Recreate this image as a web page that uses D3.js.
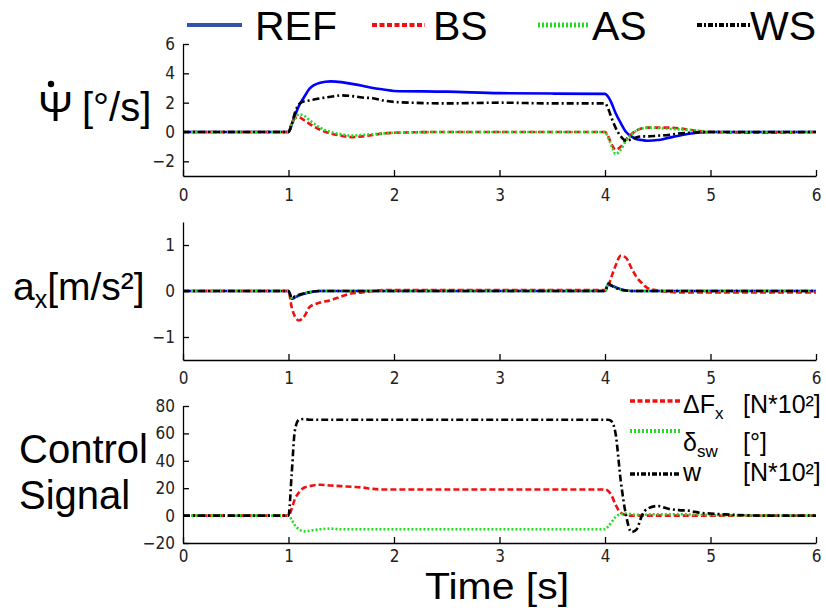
<!DOCTYPE html>
<html><head><meta charset="utf-8">
<script src="https://cdn.jsdelivr.net/npm/d3@7"></script>
<style>
html,body{margin:0;padding:0;background:#fff;}
svg{display:block;}
.tick text{font-family:"DejaVu Sans Condensed","Liberation Sans Narrow","Liberation Sans",Arial,sans-serif;font-stretch:condensed;font-size:17px;fill:#222;}
.lab{font-family:"Liberation Sans",Arial,Helvetica,sans-serif;fill:#000;}
</style></head>
<body>
<script>
// ---- shared time grid (s) ----
const time = [0, 1.0, 1.03, 1.06, 1.1, 1.15, 1.2, 1.3, 1.4, 1.5, 1.6, 1.7, 1.8, 1.9, 2.0, 2.5, 3.0, 3.5, 4.0, 4.03, 4.06, 4.1, 4.15, 4.2, 4.25, 4.3, 4.35, 4.4, 4.5, 4.6, 4.7, 4.8, 4.9, 5.0, 5.5, 6.0];

// ---- panel 1: yaw rate [deg/s] ----
const yawREF = [0, 0, 0.5, 1.1, 1.8, 2.4, 2.95, 3.35, 3.45, 3.4, 3.28, 3.15, 3.0, 2.9, 2.8, 2.75, 2.65, 2.62, 2.6, 2.4, 2.0, 1.3, 0.6, 0.0, -0.3, -0.5, -0.55, -0.6, -0.55, -0.4, -0.25, -0.12, -0.03, 0, 0, 0];
const yawBS  = [0, 0, 0.6, 0.95, 1.0, 0.8, 0.55, 0.15, -0.1, -0.25, -0.35, -0.3, -0.2, -0.1, -0.05, 0, 0, 0, 0, -0.3, -0.8, -1.2, -1.0, -0.5, -0.15, 0.1, 0.25, 0.3, 0.3, 0.3, 0.25, 0.15, 0.05, 0, -0.05, 0];
const yawAS  = [0, 0, 0.5, 0.9, 1.2, 1.1, 0.8, 0.3, 0.0, -0.15, -0.25, -0.2, -0.15, -0.1, -0.05, 0, 0, 0, 0, -0.4, -0.9, -1.5, -1.2, -0.6, -0.2, 0.1, 0.25, 0.3, 0.28, 0.22, 0.18, 0.15, 0.08, 0, 0, 0];
const yawWS  = [0, 0, 0.5, 1.3, 1.9, 2.1, 2.15, 2.3, 2.4, 2.5, 2.45, 2.35, 2.3, 2.15, 2.05, 1.95, 2.0, 1.95, 1.95, 1.6, 1.0, 0.3, -0.3, -0.6, -0.5, -0.35, -0.3, -0.3, -0.25, -0.2, -0.1, -0.05, 0, 0, 0, 0];

// ---- panel 2: longitudinal acceleration [m/s^2] ----
const axREF = [0, 0, -0.17, -0.14, -0.1, -0.06, -0.03, 0, 0, 0, 0, 0, 0, 0, 0, 0, 0, 0, 0, 0.14, 0.12, 0.08, 0.04, 0.01, 0, 0, 0, 0, 0, 0, 0, 0, 0, 0, 0, 0];
const axBS  = [0, 0, -0.35, -0.55, -0.64, -0.55, -0.35, -0.25, -0.2, -0.12, -0.05, -0.03, 0, 0.02, 0.02, 0.02, 0.02, 0.02, 0.02, 0.1, 0.3, 0.55, 0.77, 0.72, 0.5, 0.3, 0.17, 0.07, 0.01, -0.02, -0.03, -0.03, -0.03, -0.03, -0.03, -0.03];
const axAS  = [0, 0, -0.15, -0.13, -0.09, -0.05, -0.02, 0, 0, 0, 0, 0, 0, 0, 0, 0, 0, 0, 0, 0.15, 0.12, 0.07, 0.03, 0.01, 0, 0, 0, 0, 0, 0, 0, 0, 0, 0, 0, 0];
const axWS  = [0, 0, -0.15, -0.12, -0.08, -0.05, -0.02, 0, 0, 0, 0, 0, 0, 0, 0, 0, 0, 0, 0, 0.16, 0.12, 0.07, 0.03, 0.01, 0, 0, 0, 0, 0, 0, 0, 0, 0, 0, 0, 0];

// ---- panel 3: control signals ----
const ctrlDFx = [0, 0, 5, 12, 17, 20.5, 21.5, 22.5, 22, 21.5, 21, 20.5, 19.5, 19, 19, 19, 19, 19, 19, 18, 15, 8, 2, 0.5, 0, 0, 0, 0, 0, 0, 0, 0, 0, 0, 0, 0];
const ctrlDsw = [0, 0, -3, -7, -10, -11.5, -11, -10, -9.5, -10, -10, -10, -10, -10, -10, -10, -10, -10, -10, -8, -5, -1, 1, 1.5, 1, 0.5, 0.5, 0.8, 1, 1, 1, 0.8, 0.6, 0.5, 0, 0];
const ctrlW   = [0, 0, 30, 62, 70, 70.5, 70, 70, 70, 70, 70, 70, 70, 70, 70, 70, 70, 70, 70, 70, 69, 60, 25, 0, -12, -10, 0, 5, 7, 5, 4, 3.5, 2, 1.5, 0, 0];

// ---- ticks / labels ----
const xTicks = [0, 1, 2, 3, 4, 5, 6];
const yawTicks = [-2, 0, 2, 4, 6];
const axTicks = [-1, 0, 1];
const ctrlTicks = [-20, 0, 20, 40, 60, 80];
const legendTop = ["REF", "BS", "AS", "WS"];

const W = 826, H = 608;
const svg = d3.select("body").append("svg").attr("width", W).attr("height", H);
svg.append("rect").attr("width", W).attr("height", H).attr("fill", "#fff");

const x = d3.scaleLinear().domain([0, 6]).range([183, 816]);

const styles = {
  REF: {color: "#0000ff", dash: null, w: 2.6},
  BS:  {color: "#f01010", dash: "6,3", w: 2.6},
  AS:  {color: "#22dd22", dash: "2,2", w: 2.6},
  WS:  {color: "#000000", dash: "7,3,2,3", w: 2.6}
};

function panel(domain, range, ticks, series, xPad) {
  const y = d3.scaleLinear().domain(domain).range(range);
  const g = svg.append("g");
  const line = d3.line().x((d, i) => x(time[i])).y(d => y(d)).curve(d3.curveMonotoneX);
  series.forEach(s => {
    g.append("path").datum(s.values).attr("d", line)
      .attr("fill", "none").attr("stroke", s.style.color)
      .attr("stroke-width", s.style.w)
      .attr("stroke-dasharray", s.style.dash)
      .attr("stroke-linejoin", "round");
  });
  const ax = g.append("g").attr("transform", `translate(0,${range[0]})`)
    .call(d3.axisBottom(x).tickValues(xTicks).tickFormat(d3.format("d"))
      .tickSizeInner(-6).tickSizeOuter(0).tickPadding(xPad));
  const ay = g.append("g").attr("transform", `translate(${x.range()[0]},0)`)
    .call(d3.axisLeft(y).tickValues(ticks).tickFormat(d3.format("d"))
      .tickSizeInner(-6).tickSizeOuter(0).tickPadding(8));
  [ax, ay].forEach(a => {
    a.selectAll("path,line").attr("stroke", "#000").attr("stroke-width", 1.3);
  });
  return y;
}

panel([-3, 6], [176, 44], yawTicks, [
  {values: yawREF, style: styles.REF},
  {values: yawBS, style: styles.BS},
  {values: yawAS, style: styles.AS},
  {values: yawWS, style: styles.WS}
], 13);

panel([-1.5, 1.5], [360, 222], axTicks, [
  {values: axREF, style: styles.REF},
  {values: axBS, style: styles.BS},
  {values: axAS, style: styles.AS},
  {values: axWS, style: styles.WS}
], 12);

panel([-20, 80], [543, 406], ctrlTicks, [
  {values: ctrlDFx, style: styles.BS},
  {values: ctrlDsw, style: styles.AS},
  {values: ctrlW, style: styles.WS}
], 7);

// ---- top legend ----
const legPos = {REF: [187, 242, 255], BS: [372, 425, 433], AS: [538, 588, 592], WS: [697, 750, 750]};
legendTop.forEach(k => {
  const p = legPos[k], st = styles[k];
  svg.append("line").attr("x1", p[0]).attr("x2", p[1]).attr("y1", 25).attr("y2", 25)
    .attr("stroke", k === "REF" ? "#3550a8" : st.color).attr("stroke-width", k === "AS" ? 5 : 4)
    .attr("stroke-dasharray", k === "BS" ? "5,2.5" : k === "AS" ? "2,2" : k === "WS" ? "5,2,2,2" : null);
  svg.append("text").attr("class", "lab").attr("x", p[2]).attr("y", 40)
    .attr("font-size", 41).text(k);
});

// ---- y labels ----
svg.append("circle").attr("cx", 51).attr("cy", 84).attr("r", 3.2).attr("fill", "#000");
const t1 = svg.append("text").attr("class", "lab").attr("x", 38).attr("y", 121).attr("font-size", 42);
t1.append("tspan").text("Ψ");
t1.append("tspan").attr("x", 82).attr("font-size", 40).text("[°/s]");

const t2 = svg.append("text").attr("class", "lab").attr("x", 13).attr("y", 300).attr("font-size", 39);
t2.append("tspan").text("a");
t2.append("tspan").attr("font-size", 25).attr("dy", 8).text("x");
t2.append("tspan").attr("dy", -8).text("[m/s²]");

svg.append("text").attr("class", "lab").attr("x", 19).attr("y", 463).attr("font-size", 40).text("Control");
svg.append("text").attr("class", "lab").attr("x", 19).attr("y", 509).attr("font-size", 40).text("Signal");

svg.append("text").attr("class", "lab").attr("x", 425).attr("y", 599).attr("font-size", 36)
  .attr("textLength", 144).attr("lengthAdjust", "spacingAndGlyphs").text("Time [s]");

// ---- bottom legend ----
const botLeg = [
  {y: 401, ty: 413, st: styles.BS, sym: "ΔF", sub: "x", unit: "[N*10²]", dash: "5,2.5"},
  {y: 431, ty: 451, st: styles.AS, sym: "δ", sub: "sw", unit: "[°]", dash: "2,2"},
  {y: 474, ty: 481, st: styles.WS, sym: "w", sub: "", unit: "[N*10²]", dash: "5,2,2,2"}
];
botLeg.forEach(b => {
  svg.append("line").attr("x1", 630).attr("x2", 680).attr("y1", b.y).attr("y2", b.y)
    .attr("stroke", b.st.color).attr("stroke-width", b.dash === "2,2" ? 4 : 3.5).attr("stroke-dasharray", b.dash);
  const t = svg.append("text").attr("class", "lab").attr("x", 683).attr("y", b.ty).attr("font-size", 25);
  t.append("tspan").text(b.sym);
  if (b.sub) t.append("tspan").attr("font-size", 17).attr("dy", 6).text(b.sub);
  svg.append("text").attr("class", "lab").attr("x", 743).attr("y", b.ty).attr("font-size", 25).text(b.unit);
});
</script>
</body></html>
